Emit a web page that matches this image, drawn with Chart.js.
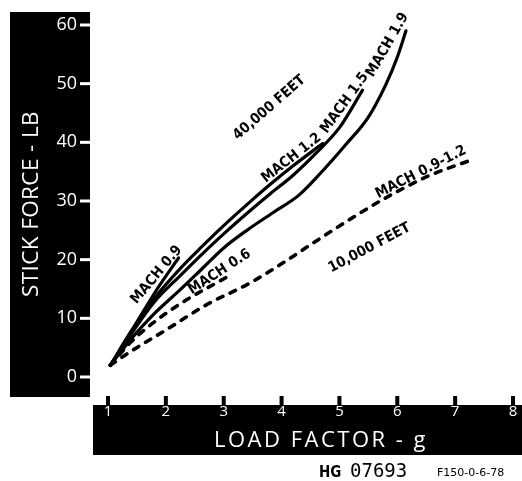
<!DOCTYPE html>
<html><head><meta charset="utf-8">
<script src="https://cdn.jsdelivr.net/npm/chart.js@4/dist/chart.umd.min.js"></script>
<style>html,body{margin:0;padding:0;background:#fff;}#wrap{width:522px;height:481px;}</style>
</head><body><div id="wrap"><canvas id="c" width="522" height="481"></canvas></div>
<script>
// ---- data (load factor g, stick force lb) ----
const xTickValues = [1, 2, 3, 4, 5, 6, 7, 8];
const yTickValues = [0, 10, 20, 30, 40, 50, 60];

// 40,000 feet (solid)
const m09Load  = [1.04, 1.3, 1.55, 1.85, 2.22];
const m09Force = [2.0, 6.0, 10.2, 15.0, 20.3];
const m12Load  = [1.04, 1.4, 1.8, 2.24, 2.6, 3.0, 3.45, 3.8, 4.2, 4.71];
const m12Force = [2.0, 7.8, 13.4, 18.4, 22.0, 25.8, 29.8, 32.8, 36.0, 39.8];
const m15Load  = [1.04, 1.4, 1.8, 2.24, 2.6, 3.0, 3.45, 3.8, 4.2, 4.6, 5.0, 5.4];
const m15Force = [2.0, 7.3, 12.8, 17.2, 20.7, 24.4, 28.3, 31.2, 34.4, 38.2, 42.5, 48.9];
const m19Load  = [1.04, 1.4, 1.8, 2.24, 2.6, 3.0, 3.4, 3.85, 4.3, 4.66, 5.1, 5.5, 5.8, 6.0, 6.15];
const m19Force = [2.0, 6.5, 10.8, 14.8, 18.2, 22.0, 25.0, 28.0, 31.0, 34.6, 39.5, 44.3, 49.8, 54.5, 59.0];

// 10,000 feet (dashed)
const m06Load  = [1.04, 1.4, 1.75, 2.3, 3.05];
const m06Force = [2.0, 6.0, 9.0, 12.8, 17.0];
const m0912Load  = [1.04, 1.4, 2.0, 2.7, 3.45, 4.0, 4.6, 5.17, 5.74, 6.5, 7.28];
const m0912Force = [2.0, 4.4, 8.0, 12.3, 16.0, 19.3, 23.2, 26.8, 30.2, 34.1, 37.0];

const toPts = (xs, ys) => xs.map((x, i) => ({x, y: ys[i]}));

// text labels placed in data coordinates
const curveLabels = [
  {text: '40,000 FEET', x: 3.79, y: 45.9, angle: -41},
  {text: 'MACH 1.2', x: 4.17, y: 37.3, angle: -38},
  {text: 'MACH 1.5', x: 5.09, y: 46.7, angle: -54},
  {text: 'MACH 1.9', x: 5.83, y: 56.6, angle: -60},
  {text: 'MACH 0.9-1.2', x: 6.41, y: 34.9, angle: -27},
  {text: '10,000 FEET', x: 5.52, y: 22.0, angle: -28},
  {text: 'MACH 0.6', x: 2.93, y: 17.9, angle: -33},
  {text: 'MACH 0.9', x: 1.84, y: 17.4, angle: -50}
];
const xTitle = 'LOAD FACTOR - g';
const yTitle = 'STICK FORCE - LB';

const solid = (label, pts) => ({label, data: pts, showLine: true, borderColor: '#000', borderWidth: 3.2,
  pointRadius: 0, tension: 0.4, cubicInterpolationMode: 'monotone', fill: false, borderCapStyle: 'round'});
const dashed = (label, pts) => ({label, data: pts, showLine: true, borderColor: '#000', borderWidth: 3.6,
  borderDash: [6, 8], borderCapStyle: 'round', pointRadius: 0, tension: 0.4, cubicInterpolationMode: 'monotone', fill: false});

const bandsPlugin = {
  id: 'bands',
  beforeDraw(chart) {
    const ctx = chart.ctx;
    const xs = chart.scales.x, ys = chart.scales.y;
    ctx.save();
    ctx.fillStyle = '#fff';
    ctx.fillRect(0, 0, chart.width, chart.height);
    ctx.fillStyle = '#000';
    ctx.fillRect(10, 12, 80, 385);
    ctx.fillRect(93, 405, 429, 50);
    xTickValues.forEach(v => {
      const px = xs.getPixelForValue(v);
      ctx.fillRect(px - 2, 396, 4, 10);
    });
    ctx.fillStyle = '#fff';
    yTickValues.forEach(v => {
      const py = ys.getPixelForValue(v);
      ctx.fillRect(80, py - 1.5, 11, 3);
    });
    ctx.restore();
  },
  afterDatasetsDraw(chart) {
    const ctx = chart.ctx;
    const xs = chart.scales.x, ys = chart.scales.y;
    const hasLS = ('letterSpacing' in ctx);
    ctx.save();
    ctx.fillStyle = '#000';
    ctx.font = 'bold 14.5px "DejaVu Sans Condensed", "DejaVu Sans"';
    ctx.textAlign = 'center';
    ctx.textBaseline = 'middle';
    curveLabels.forEach(l => {
      ctx.save();
      ctx.translate(xs.getPixelForValue(l.x), ys.getPixelForValue(l.y));
      ctx.rotate(l.angle * Math.PI / 180);
      ctx.fillText(l.text, 0, 0);
      ctx.restore();
    });
    // axis titles (white on black bands)
    ctx.fillStyle = '#fff';
    ctx.font = '22px "Open Sans"';
    if (hasLS) ctx.letterSpacing = '2.5px';
    ctx.fillText(xTitle, 321, 441);
    ctx.save();
    ctx.translate(32, 204);
    ctx.rotate(-Math.PI / 2);
    ctx.font = '22.5px "Open Sans"';
    if (hasLS) ctx.letterSpacing = '0.4px';
    ctx.fillText(yTitle, 0, 0);
    ctx.restore();
    if (hasLS) ctx.letterSpacing = '0px';
    // footer
    ctx.fillStyle = '#000';
    ctx.textAlign = 'left';
    ctx.textBaseline = 'alphabetic';
    ctx.font = 'bold 15px "DejaVu Sans Condensed", "DejaVu Sans"';
    ctx.fillText('HG', 319, 477);
    ctx.font = '19px "DejaVu Sans Mono"';
    ctx.fillText('07693', 350, 477);
    ctx.font = '11px "DejaVu Sans"';
    ctx.fillText('F150-0-6-78', 437, 476);
    ctx.restore();
  }
};

new Chart(document.getElementById('c'), {
  type: 'scatter',
  data: {
    datasets: [
      solid('MACH 0.9 (40,000 ft)', toPts(m09Load, m09Force)),
      solid('MACH 1.2 (40,000 ft)', toPts(m12Load, m12Force)),
      solid('MACH 1.5 (40,000 ft)', toPts(m15Load, m15Force)),
      solid('MACH 1.9 (40,000 ft)', toPts(m19Load, m19Force)),
      dashed('MACH 0.6 (10,000 ft)', toPts(m06Load, m06Force)),
      dashed('MACH 0.9-1.2 (10,000 ft)', toPts(m0912Load, m0912Force))
    ]
  },
  options: {
    responsive: false,
    animation: false,
    devicePixelRatio: 1,
    layout: {padding: {left: 0, right: 9, top: 25, bottom: 0}},
    plugins: {legend: {display: false}, tooltip: {enabled: false}},
    scales: {
      x: {
        type: 'linear', min: 1, max: 8,
        afterBuildTicks: s => { s.ticks = xTickValues.map(v => ({value: v})); },
        afterFit: s => { s.height = 104; },
        grid: {display: true, drawOnChartArea: false, drawTicks: true, tickLength: 23, tickColor: 'rgba(0,0,0,0)'},
        border: {display: false},
        ticks: {color: '#fff', font: {family: 'Open Sans', size: 15}, padding: 3, maxRotation: 0},
        title: {display: false, text: xTitle}
      },
      y: {
        type: 'linear', min: 0, max: 60,
        afterBuildTicks: s => { s.ticks = yTickValues.map(v => ({value: v})); },
        afterFit: s => { s.width = 108; },
        grid: {display: true, drawOnChartArea: false, drawTicks: true, tickLength: 28, tickColor: 'rgba(0,0,0,0)'},
        border: {display: false},
        ticks: {color: '#fff', font: {family: 'Open Sans', size: 18}, padding: 3},
        title: {display: false, text: yTitle}
      }
    }
  },
  plugins: [bandsPlugin]
});
</script></body></html>
